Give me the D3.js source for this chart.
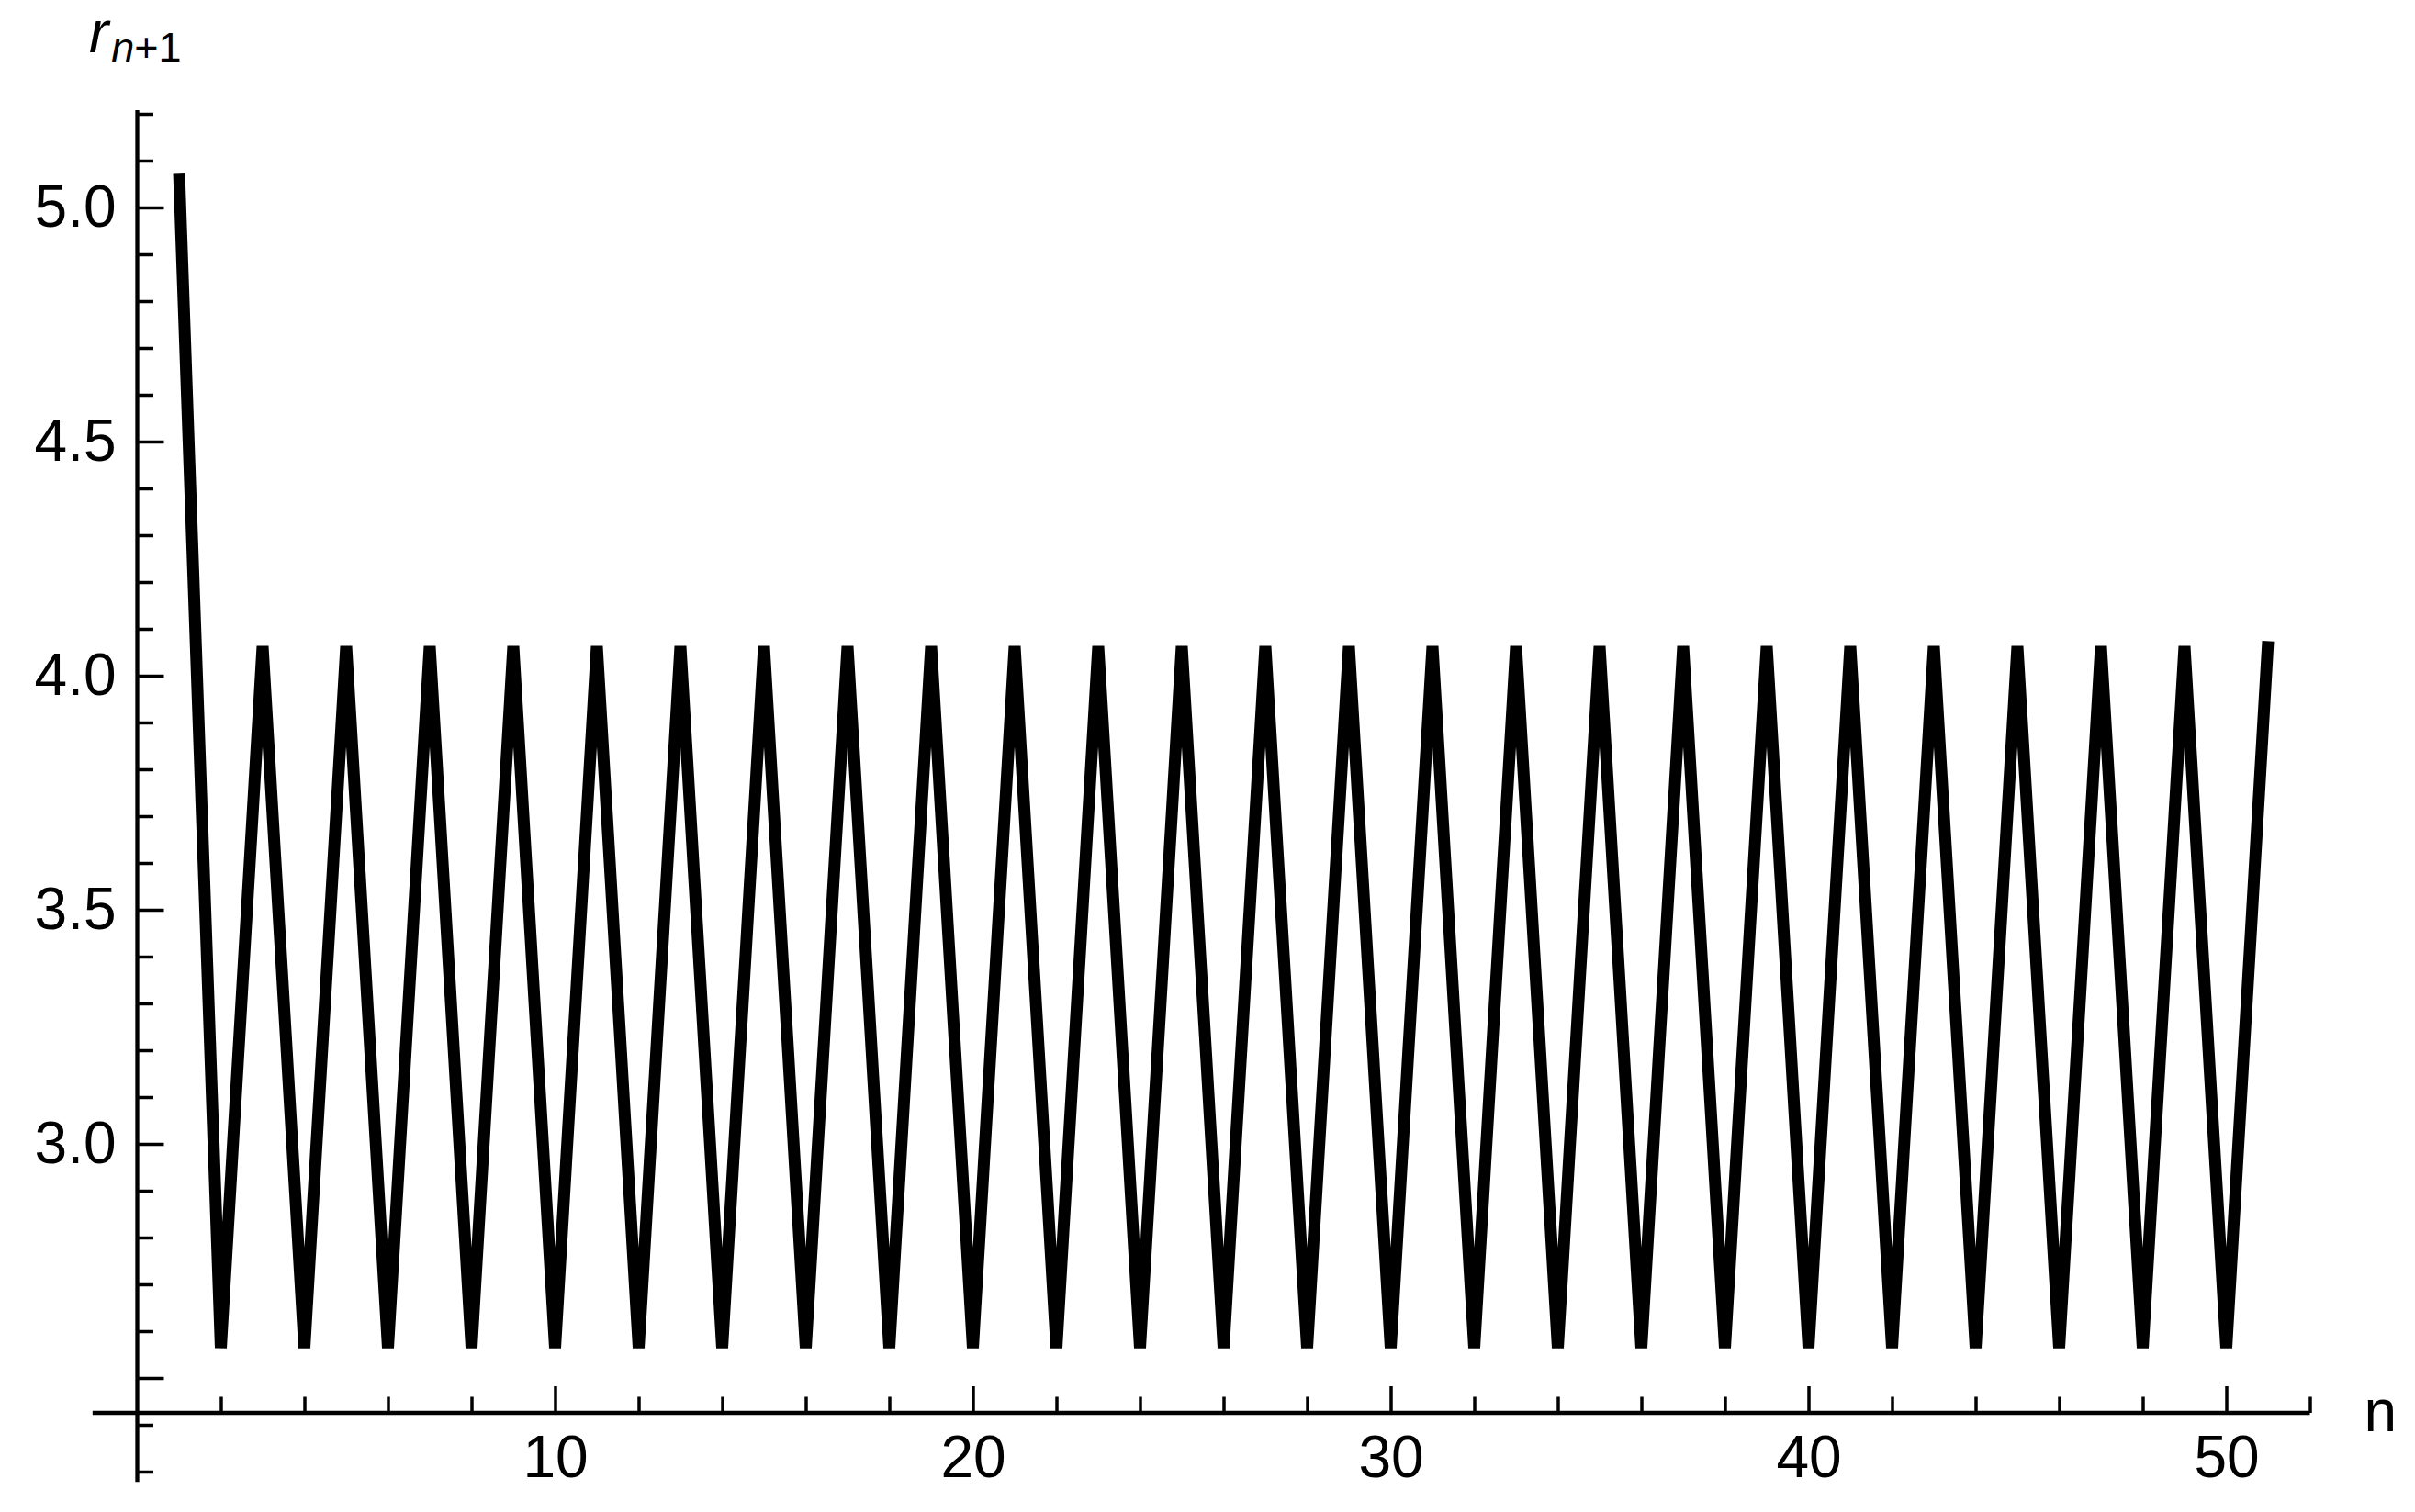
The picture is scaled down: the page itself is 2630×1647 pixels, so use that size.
<!DOCTYPE html>
<html>
<head>
<meta charset="utf-8">
<script src="https://cdn.jsdelivr.net/npm/d3@7"></script>
<style>
body { margin: 0; background: #fff; }
svg { display: block; }
.axis-label { font-family: "Liberation Sans", Arial, sans-serif; fill: #000; }
</style>
</head>
<body>
<div id="chart"></div>
<script>
// r_{n+1} for n = 1 .. 51
const rValues = [
    5.074,
    2.564, 4.063, 2.564, 4.063, 2.564, 4.063, 2.564, 4.063, 2.564, 4.063,
    2.564, 4.063, 2.564, 4.063, 2.564, 4.063, 2.564, 4.063, 2.564, 4.063,
    2.564, 4.063, 2.564, 4.063, 2.564, 4.063, 2.564, 4.063, 2.564, 4.063,
    2.564, 4.063, 2.564, 4.063, 2.564, 4.063, 2.564, 4.063, 2.564, 4.063,
    2.564, 4.063, 2.564, 4.063, 2.564, 4.063, 2.564, 4.063, 2.564, 4.074
];

const xMajorTicks = [10, 20, 30, 40, 50];
const xMinorTicks = [2, 4, 6, 8, 12, 14, 16, 18, 22, 24, 26, 28, 32, 34, 36, 38, 42, 44, 46, 48, 52];
const yMajorTicks = [2.5, 3.0, 3.5, 4.0, 4.5, 5.0];
const yTickLabels = ["", "3.0", "3.5", "4.0", "4.5", "5.0"];
const yMinorTicks = [2.3, 2.4, 2.6, 2.7, 2.8, 2.9, 3.1, 3.2, 3.3, 3.4, 3.6, 3.7, 3.8, 3.9,
		     4.1, 4.2, 4.3, 4.4, 4.6, 4.7, 4.8, 4.9, 5.1, 5.2];

const width = 2630, height = 1647;

// plot range (axes are drawn a bit past the ticks, like the original)
const xAxisFrom = -1.07, xAxisTo = 52;
const yAxisFrom = 2.278, yAxisTo = 5.208;
const xAxisCrossing = 2.4255;

function drawPlot(e) {
    let svg, x, y;

    d3.select(e).selectAll("*").remove();

    svg = d3.select(e)
	.append("svg")
	.attr("width", width)
	.attr("height", height)
	.attr("viewBox", "0 0 " + width + " " + height);

    x = d3.scaleLinear()
	.domain([0, 52])
	.range([149.5, 2515.5]);

    y = d3.scaleLinear()
	.domain([3.0, 5.0])
	.range([1246, 226]);

    let axisY = y(xAxisCrossing);
    let axisX = x(0);

    // x-axis minor ticks
    svg.append("g")
	.attr("transform", "translate(0," + axisY + ")")
	.call(d3.axisBottom(x)
	      .tickValues(xMinorTicks)
	      .tickSize(-17.5)
	      .tickFormat(""))
	.call(g => g.select(".domain").remove());

    // x-axis major ticks + labels
    svg.append("g")
	.attr("transform", "translate(0," + axisY + ")")
	.call(d3.axisBottom(x)
	      .tickValues(xMajorTicks)
	      .tickSize(-29)
	      .tickPadding(25)
	      .tickFormat(d3.format("d")))
	.call(g => g.select(".domain").remove())
	.call(g => g.selectAll("text")
	      .attr("class", "axis-label")
	      .attr("font-family", "Liberation Sans, Arial, sans-serif")
	      .attr("font-size", 64));

    // y-axis minor ticks
    svg.append("g")
	.attr("transform", "translate(" + axisX + ",0)")
	.call(d3.axisLeft(y)
	      .tickValues(yMinorTicks)
	      .tickSize(-17.5)
	      .tickFormat(""))
	.call(g => g.select(".domain").remove());

    // y-axis major ticks + labels (2.5 sits on the x axis, no label)
    svg.append("g")
	.attr("transform", "translate(" + axisX + ",0)")
	.call(d3.axisLeft(y)
	      .tickValues(yMajorTicks)
	      .tickSize(-29)
	      .tickPadding(23)
	      .tickFormat((d, i) => yTickLabels[i]))
	.call(g => g.select(".domain").remove())
	.call(g => g.selectAll("text")
	      .attr("class", "axis-label")
	      .attr("font-family", "Liberation Sans, Arial, sans-serif")
	      .attr("font-size", 64));

    svg.selectAll(".tick line")
	.attr("stroke", "#000")
	.attr("stroke-width", 3.5);

    // axis lines
    svg.append("line")
	.attr("x1", x(xAxisFrom)).attr("x2", x(xAxisTo))
	.attr("y1", axisY).attr("y2", axisY)
	.attr("stroke", "#000")
	.attr("stroke-width", 4.3);

    svg.append("line")
	.attr("x1", axisX).attr("x2", axisX)
	.attr("y1", y(yAxisTo)).attr("y2", y(yAxisFrom))
	.attr("stroke", "#000")
	.attr("stroke-width", 4.3);

    // axis titles
    svg.append("text")
	.attr("class", "axis-label")
	.attr("x", x(xAxisTo) + 59)
	.attr("y", axisY + 20)
	.attr("font-size", 64)
	.text("n");

    let ylab = svg.append("text")
	.attr("class", "axis-label")
	.attr("x", 97)
	.attr("y", 57)
	.attr("font-size", 64);
    ylab.append("tspan")
	.attr("font-style", "italic")
	.text("r");
    ylab.append("tspan")
	.attr("font-size", 45)
	.attr("font-style", "italic")
	.attr("dx", 3)
	.attr("dy", 10)
	.text("n");
    ylab.append("tspan")
	.attr("font-size", 45)
	.text("+1");

    // the sequence
    svg.append("path")
	.datum(rValues)
	.attr("fill", "none")
	.attr("stroke", "#000")
	.attr("stroke-width", 13)
	.attr("stroke-linejoin", "miter")
	.attr("stroke-linecap", "butt")
	.attr("d", d3.line()
	      .x(function(d, i) { return x(i + 1) })
	      .y(function(d) { return y(d) }));
}

drawPlot("#chart");
</script>
</body>
</html>
